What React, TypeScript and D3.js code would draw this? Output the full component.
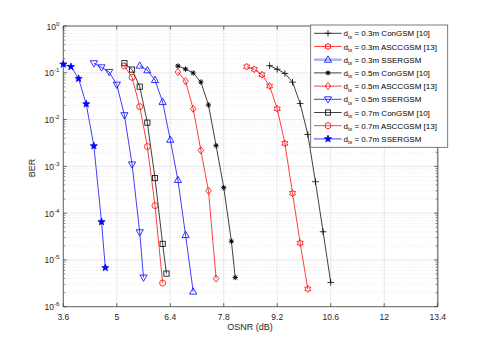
import React from 'react';
import * as d3 from 'd3';

const xTicks = [3.6, 5, 6.4, 7.8, 9.2, 10.6, 12, 13.4];
const yExps = [0, -1, -2, -3, -4, -5, -6];

const con03X = [9.0, 9.2, 9.4, 9.6, 9.8, 10.0, 10.2, 10.4, 10.6];
const con03Y = [0.142, 0.119, 0.097, 0.063, 0.022, 0.0048, 4.7e-4, 4.0e-5, 3.3e-6];
const asc03X = [8.4, 8.6, 8.8, 9.0, 9.2, 9.4, 9.6, 9.8, 10.0];
const asc03Y = [0.135, 0.119, 0.091, 0.052, 0.017, 0.0031, 2.66e-4, 2.3e-5, 2.4e-6];
const sse03X = [5.6, 5.8, 6.0, 6.2, 6.4, 6.6, 6.8, 7.0];
const sse03Y = [0.142, 0.113, 0.07, 0.0238, 0.0037, 5.1e-4, 3.4e-5, 2.1e-6];
const con05X = [6.6, 6.8, 7.0, 7.2, 7.4, 7.6, 7.8, 8.0, 8.1];
const con05Y = [0.14, 0.12, 0.099, 0.0636, 0.0205, 0.00277, 3.5e-4, 2.5e-5, 4.2e-6];
const asc05X = [6.6, 6.8, 7.0, 7.2, 7.4, 7.6];
const asc05Y = [0.104, 0.066, 0.017, 0.0022, 3.0e-4, 4.0e-6];
const sse05X = [4.4, 4.6, 4.8, 5.0, 5.2, 5.4, 5.6, 5.7];
const sse05Y = [0.16, 0.131, 0.104, 0.0557, 0.0124, 0.0011, 3.9e-5, 4.2e-6];
const con07X = [5.2, 5.4, 5.6, 5.8, 6.0, 6.2, 6.3];
const con07Y = [0.16, 0.117, 0.0505, 0.0086, 5.6e-4, 2.2e-5, 5.1e-6];
const asc07X = [5.2, 5.4, 5.6, 5.8, 6.0, 6.2];
const asc07Y = [0.14, 0.08, 0.0189, 0.00265, 1.45e-4, 3.2e-6];
const sse07X = [3.6, 3.8, 4.0, 4.2, 4.4, 4.6, 4.7];
const sse07Y = [0.152, 0.135, 0.075, 0.0215, 0.00273, 6.5e-5, 6.8e-6];

const seriesNames = [
  { d: '0.3m', s: 'ConGSM [10]' },
  { d: '0.3m', s: 'ASCCGSM [13]' },
  { d: '0.3m', s: 'SSERGSM' },
  { d: '0.5m', s: 'ConGSM [10]' },
  { d: '0.5m', s: 'ASCCGSM [13]' },
  { d: '0.5m', s: 'SSERGSM' },
  { d: '0.7m', s: 'ConGSM [10]' },
  { d: '0.7m', s: 'ASCCGSM [13]' },
  { d: '0.7m', s: 'SSERGSM' },
];

type Marker = 'plus' | 'hex' | 'tri' | 'ast' | 'dia' | 'dtri' | 'sq' | 'circ' | 'pent';

const series: { xs: number[]; ys: number[]; color: string; marker: Marker }[] = [
  { xs: con03X, ys: con03Y, color: '#000000', marker: 'plus' },
  { xs: asc03X, ys: asc03Y, color: '#ff0000', marker: 'hex' },
  { xs: sse03X, ys: sse03Y, color: '#0000ff', marker: 'tri' },
  { xs: con05X, ys: con05Y, color: '#000000', marker: 'ast' },
  { xs: asc05X, ys: asc05Y, color: '#ff0000', marker: 'dia' },
  { xs: sse05X, ys: sse05Y, color: '#0000ff', marker: 'dtri' },
  { xs: con07X, ys: con07Y, color: '#000000', marker: 'sq' },
  { xs: asc07X, ys: asc07Y, color: '#ff0000', marker: 'circ' },
  { xs: sse07X, ys: sse07Y, color: '#0000ff', marker: 'pent' },
];

function starPath(n: number, ro: number, ri: number) {
  const pts: string[] = [];
  for (let i = 0; i < 2 * n; i++) {
    const r = i % 2 === 0 ? ro : ri;
    const a = -Math.PI / 2 + (i * Math.PI) / n;
    pts.push(`${(r * Math.cos(a)).toFixed(2)},${(r * Math.sin(a)).toFixed(2)}`);
  }
  return 'M' + pts.join('L') + 'Z';
}

function MarkerShape({ m, x, y, color }: { m: Marker; x: number; y: number; color: string }) {
  const sw = 0.8;
  const t = `translate(${x},${y})`;
  switch (m) {
    case 'plus':
      return <path transform={t} d="M-3.3,0H3.3M0,-3.3V3.3" stroke={color} strokeWidth={sw} fill="none" />;
    case 'ast':
      return (
        <path transform={t} d="M-2.6,0H2.6M0,-2.6V2.6M-1.9,-1.9L1.9,1.9M-1.9,1.9L1.9,-1.9" stroke={color} strokeWidth={1} fill="none" />
      );
    case 'hex':
      return <path transform={t} d={starPath(6, 3.5, 2.0)} stroke={color} strokeWidth={sw} fill="none" />;
    case 'pent':
      return <path transform={t} d={starPath(5, 3.8, 1.6)} stroke={color} strokeWidth={0.7} fill={color} />;
    case 'tri':
      return <path transform={t} d="M0,-3.8L3.6,2.5H-3.6Z" stroke={color} strokeWidth={sw} fill="none" />;
    case 'dtri':
      return <path transform={t} d="M0,3.8L3.6,-2.5H-3.6Z" stroke={color} strokeWidth={sw} fill="none" />;
    case 'dia':
      return <path transform={t} d="M0,-3.6L2.8,0L0,3.6L-2.8,0Z" stroke={color} strokeWidth={sw} fill="none" />;
    case 'sq':
      return <rect x={x - 2.6} y={y - 2.6} width={5.2} height={5.2} stroke={color} strokeWidth={sw} fill="none" />;
    case 'circ':
      return <circle cx={x} cy={y} r={3} stroke={color} strokeWidth={sw} fill="none" />;
  }
  return null;
}

export default function App() {
  const W = 485, H = 346;
  const L = 63.3, R = 437.7, T = 26, B = 306.7;
  const x = d3.scaleLinear().domain([3.6, 13.4]).range([L, R]);
  const y = d3.scaleLog().domain([1e-6, 1]).range([B, T]);
  const font = 'Liberation Sans, Arial, Helvetica, sans-serif';
  const gridColor = '#e3e3e3';
  const axisColor = '#404040';

  const minorVals: number[] = [];
  for (let e = -6; e < 0; e++) {
    for (let k = 2; k <= 9; k++) minorVals.push(k * Math.pow(10, e));
  }

  const line = d3
    .line<[number, number]>()
    .x((d) => x(d[0]))
    .y((d) => y(d[1]));

  const legX = 310.7, legY = 25, legW = 137, legH = 122.3;

  return (
    <svg width={W} height={H} style={{ position: 'absolute', left: 0, top: 0 }} fontFamily={font}>
      <rect x={0} y={0} width={W} height={H} fill="#ffffff" />
      <rect x={L} y={T} width={R - L} height={B - T} fill="#ffffff" />
      {minorVals.map((v, i) => (
        <line key={'mg' + i} x1={L} x2={R} y1={y(v)} y2={y(v)} stroke="#dcdcdc" strokeWidth={0.6} strokeDasharray="1,2" />
      ))}
      {yExps.map((e) => (
        <line key={'yg' + e} x1={L} x2={R} y1={y(Math.pow(10, e))} y2={y(Math.pow(10, e))} stroke={gridColor} strokeWidth={0.8} />
      ))}
      {xTicks.map((t) => (
        <line key={'xg' + t} x1={x(t)} x2={x(t)} y1={T} y2={B} stroke={gridColor} strokeWidth={0.8} />
      ))}
      <line x1={L} x2={R} y1={B} y2={B} stroke={axisColor} strokeWidth={0.8} />
      <line x1={L} x2={L} y1={T} y2={B} stroke={axisColor} strokeWidth={0.8} />
      <line x1={L} x2={R} y1={T} y2={T} stroke={axisColor} strokeWidth={0.8} />
      <line x1={R} x2={R} y1={T} y2={B} stroke="#8a8a8a" strokeWidth={1.6} />
      {xTicks.map((t) => (
        <g key={'xt' + t}>
          <line x1={x(t)} x2={x(t)} y1={B} y2={B - 3.5} stroke={axisColor} strokeWidth={0.8} />
          <line x1={x(t)} x2={x(t)} y1={T} y2={T + 3.5} stroke={axisColor} strokeWidth={0.8} />
          <text x={x(t)} y={320} fontSize={8.5} textAnchor="middle" fill="#262626">
            {t}
          </text>
        </g>
      ))}
      {yExps.map((e) => (
        <g key={'yt' + e}>
          <line x1={L} x2={L + 3.5} y1={y(Math.pow(10, e))} y2={y(Math.pow(10, e))} stroke={axisColor} strokeWidth={0.8} />
          <line x1={R} x2={R - 3.5} y1={y(Math.pow(10, e))} y2={y(Math.pow(10, e))} stroke={axisColor} strokeWidth={0.8} />
          <text x={59.5} y={y(Math.pow(10, e)) + 3.5} fontSize={8.5} textAnchor="end" fill="#262626">
            10
            <tspan dy={-4} fontSize={6.2}>
              {e}
            </tspan>
          </text>
        </g>
      ))}
      {minorVals.map((v, i) => (
        <g key={'mt' + i}>
          <line x1={L} x2={L + 2} y1={y(v)} y2={y(v)} stroke={axisColor} strokeWidth={0.6} />
          <line x1={R} x2={R - 2} y1={y(v)} y2={y(v)} stroke={axisColor} strokeWidth={0.6} />
        </g>
      ))}
      {series.map((s, i) => {
        const pts = s.xs.map((xv, j) => [xv, s.ys[j]] as [number, number]);
        return (
          <g key={'s' + i}>
            <path d={line(pts) || ''} fill="none" stroke={s.color} strokeWidth={0.75} />
            {pts.map((p, j) => (
              <MarkerShape key={j} m={s.marker} x={x(p[0])} y={y(p[1])} color={s.color} />
            ))}
          </g>
        );
      })}
      <text x={250} y={330} fontSize={9} textAnchor="middle" fill="#262626">
        OSNR (dB)
      </text>
      <text transform="translate(35,168) rotate(-90)" fontSize={9} textAnchor="middle" fill="#262626">
        BER
      </text>
      <rect x={legX} y={legY} width={legW} height={legH} fill="#ffffff" stroke="#5a5a5a" strokeWidth={0.8} />
      {series.map((s, i) => {
        const ly = 33.3 + i * 13.2;
        const thick = i === 2;
        return (
          <g key={'lg' + i}>
            <line
              x1={314}
              x2={341.7}
              y1={ly}
              y2={ly}
              stroke={thick ? '#a8b0ff' : s.color}
              strokeWidth={thick ? 2.4 : 0.75}
            />
            <MarkerShape m={s.marker} x={328} y={ly} color={s.color} />
            <text x={343.5} y={ly + 3} fontSize={8} fill="#000000">
              d
              <tspan dy={2.5} fontSize={5.5}>
                tx
              </tspan>
              <tspan dy={-2.5}>{` = ${seriesNames[i].d} ${seriesNames[i].s}`}</tspan>
            </text>
          </g>
        );
      })}
    </svg>
  );
}
